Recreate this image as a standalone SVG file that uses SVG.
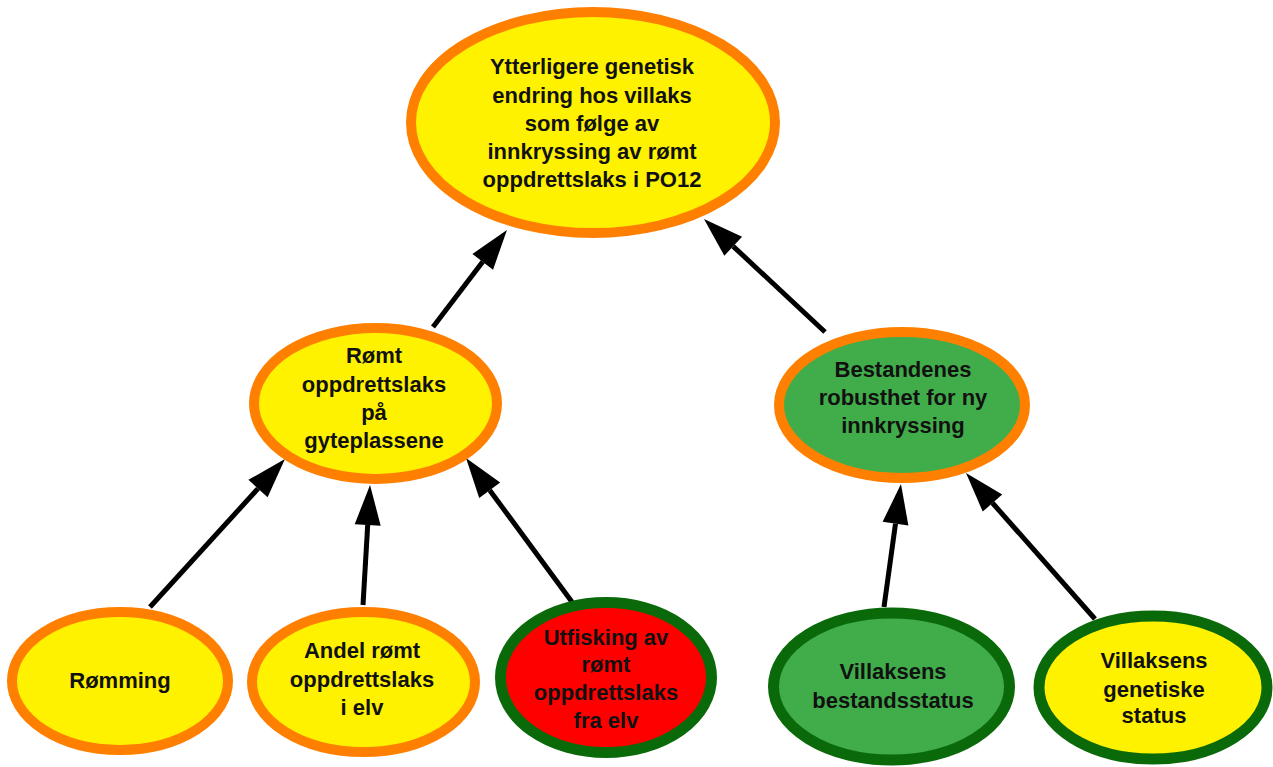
<svg xmlns="http://www.w3.org/2000/svg" width="1273" height="767" viewBox="0 0 1273 767">
<defs>
<style>
.bg{fill:#ffffff}
.yo{fill:#FFF200;stroke:#FF8000;stroke-width:10}
.go{fill:#41AD4A;stroke:#FF8000;stroke-width:10}
.yg{fill:#FFF200;stroke:#0A6A0A;stroke-width:11}
.gg{fill:#41AD4A;stroke:#0A6A0A;stroke-width:11}
.rg{fill:#FF0000;stroke:#0A6A0A;stroke-width:11}
text{font-family:"Liberation Sans",Arial,sans-serif;font-weight:bold;font-size:22px;fill:#111111;text-anchor:middle}
.c line{stroke:#000;stroke-width:5;marker-end:url(#ah)}
</style>
<marker id="ah" markerUnits="userSpaceOnUse" markerWidth="40" markerHeight="26" refX="0" refY="13" orient="auto" overflow="visible">
<path d="M0,0 L40,13 L0,26 z" fill="#000"/>
</marker>
</defs>
<rect class="bg" x="0" y="0" width="1273" height="767"/>
<g id="connectors" class="c">
<line x1="433" y1="327" x2="482.7" y2="261.8"/>
<line x1="825" y1="332" x2="733.2" y2="246.3"/>
<line x1="150" y1="607" x2="258" y2="488.6"/>
<line x1="363" y1="605" x2="367.7" y2="524.9"/>
<line x1="572" y1="602" x2="489.7" y2="490.2"/>
<line x1="884" y1="607" x2="895.5" y2="523.6"/>
<line x1="1095" y1="619" x2="992.5" y2="503"/>
</g>
<g id="top">
<ellipse class="yo" cx="593" cy="122.5" rx="182" ry="110.5"/>
<text x="592" y="74">Ytterligere genetisk</text>
<text x="592" y="103">endring hos villaks</text>
<text x="592" y="131">som følge av</text>
<text x="592" y="159">innkryssing av rømt</text>
<text x="592" y="187">oppdrettslaks i PO12</text>
</g>
<g id="romt">
<ellipse class="yo" cx="375.5" cy="403.5" rx="121.5" ry="75.5"/>
<text x="374" y="363">Rømt</text>
<text x="374" y="392">oppdrettslaks</text>
<text x="374" y="420">på</text>
<text x="374" y="448">gyteplassene</text>
</g>
<g id="bestandenes">
<ellipse class="go" cx="902" cy="405" rx="123" ry="73"/>
<text x="903" y="377">Bestandenes</text>
<text x="903" y="405">robusthet for ny</text>
<text x="903" y="433">innkryssing</text>
</g>
<g id="romming">
<ellipse class="yo" cx="120" cy="681" rx="108" ry="69"/>
<text x="120" y="688">Rømming</text>
</g>
<g id="andel">
<ellipse class="yo" cx="363.5" cy="682" rx="111.5" ry="70"/>
<text x="362" y="658">Andel rømt</text>
<text x="362" y="687">oppdrettslaks</text>
<text x="362" y="715">i elv</text>
</g>
<g id="utfisking">
<ellipse class="rg" cx="606" cy="677.5" rx="105.5" ry="75"/>
<text x="606" y="645">Utfisking av</text>
<text x="606" y="672">rømt</text>
<text x="606" y="700">oppdrettslaks</text>
<text x="606" y="728">fra elv</text>
</g>
<g id="bestandsstatus">
<ellipse class="gg" cx="891.5" cy="686.5" rx="118" ry="73.5"/>
<text x="893" y="679">Villaksens</text>
<text x="893" y="708">bestandsstatus</text>
</g>
<g id="genetiske">
<ellipse class="yg" cx="1153" cy="687.5" rx="114" ry="71.5"/>
<text x="1154" y="668">Villaksens</text>
<text x="1154" y="697">genetiske</text>
<text x="1154" y="723">status</text>
</g>
</svg>
